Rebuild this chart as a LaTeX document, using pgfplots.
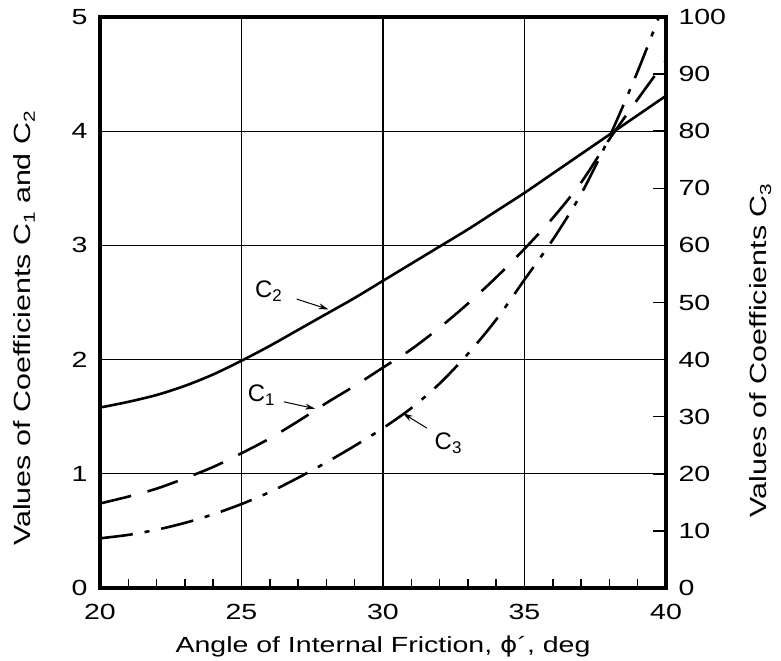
\documentclass[border=0pt]{standalone}
\usepackage{fontspec}
\setmainfont{Liberation Sans}[FakeStretch=1.3]
\newfontfamily\annfont{Liberation Sans}
\newfontfamily\phifont{DejaVu Sans}[FakeStretch=1.2]
\usepackage{pgfplots}
\usepackage{pgfplotstable}
\pgfplotsset{compat=1.18}
\usetikzlibrary{arrows.meta}
\newcommand\sub[1]{\raisebox{-0.35ex}{\fontsize{16}{16}\selectfont #1}}
\newcommand\subann[1]{\raisebox{-0.35ex}{\annfont\fontsize{17}{17}\selectfont #1}}

\pgfplotstableread{
x y
20 1.58
21 1.63
22 1.69
23 1.77
24 1.87
25 1.99
26 2.12
27 2.26
28 2.40
29 2.54
30 2.69
31 2.84
32 2.99
33 3.14
34 3.30
35 3.46
36 3.63
37 3.80
38 3.97
39 4.14
40 4.31
}\Ctwo

\pgfplotstableread{
x y
20 0.74
21 0.80
22 0.87
23 0.96
24 1.06
25 1.18
26 1.31
27 1.46
28 1.62
29 1.77
30 1.93
31 2.09
32 2.28
33 2.49
34 2.72
35 2.97
36 3.24
37 3.55
38 3.93
39 4.28
40 4.62
}\Cone

\pgfplotstableread{
x y
20 8.7
21 9.3
22 10.2
23 11.4
24 12.9
25 14.7
26 16.8
27 19.3
28 22.0
29 24.9
30 28.0
31 31.5
32 35.8
33 41.0
34 47.0
35 54.0
36 61.0
37 69.0
38 79.0
39 90.5
39.75 100
}\Cthree

\begin{document}
\begin{tikzpicture}
\begin{axis}[
  name=ax,
  scale only axis, width=566bp, height=571bp,
  xmin=20, xmax=40, ymin=0, ymax=5,
  xtick={20,25,30,35,40}, ytick={0,1,2,3,4,5},
  minor xtick={21,22,23,24,26,27,28,29,31,32,33,34,36,37,38,39},
  xtick pos=bottom, ytick pos=left,
  major tick length=0pt, minor tick length=9bp,
  tick align=inside,
  grid=major,
  major grid style={line width=1.2bp, black},
  minor tick style={line width=1.5bp, black},
  axis line style={line width=4bp, black},
  ticklabel style={font=\fontsize{22}{26}\selectfont, black},
  /pgf/number format/assume math mode=true,
  xticklabel style={yshift=-13bp},
  yticklabel style={xshift=-9bp},
  xlabel style={font=\fontsize{22}{26}\selectfont, yshift=-9bp},
  ylabel style={font=\fontsize{23.5}{28}\selectfont, yshift=30bp, xshift=-26bp},
  xlabel={Angle of Internal Friction, {\phifont ϕ}´, deg},
  ylabel={Values of Coefficients C\sub{1} and C\sub{2}},
]
\coordinate (SW) at (rel axis cs:0,0);
\coordinate (NE) at (rel axis cs:1,1);
\addplot[black, line width=2.6bp, smooth] table {\Ctwo};
\addplot[black, line width=2.6bp, smooth, dash pattern=on 32bp off 17bp] table {\Cone};
\node[font=\annfont\fontsize{24}{28}\selectfont] at (axis cs:25.95,2.60) {C\subann{2}};
\draw[line width=1bp, -{Stealth[length=10bp,width=6bp]}] (axis cs:26.95,2.53) -- (axis cs:28.07,2.44);
\node[font=\annfont\fontsize{24}{28}\selectfont] at (axis cs:25.7,1.69) {C\subann{1}};
\draw[line width=1bp, -{Stealth[length=10bp,width=6bp]}] (axis cs:26.5,1.63) -- (axis cs:27.6,1.57);
\node[font=\annfont\fontsize{24}{28}\selectfont] at (axis cs:32.3,1.27) {C\subann{3}};
\draw[line width=1bp, -{Stealth[length=10bp,width=6bp]}] (axis cs:31.55,1.40) -- (axis cs:30.7,1.53);
\end{axis}
\begin{axis}[
  scale only axis, width=566bp, height=571bp,
  xmin=20, xmax=40, ymin=0, ymax=100,
  axis x line=none, axis y line*=right,
  ytick={0,10,...,100},
  tick align=inside, major tick length=13bp,
  major tick style={line width=1.5bp, black},
  axis line style={line width=4bp, black},
  ticklabel style={font=\fontsize{22}{26}\selectfont, black},
  /pgf/number format/assume math mode=true,
  yticklabel style={xshift=9bp},
  ylabel style={font=\fontsize{23.5}{28}\selectfont, yshift=-17bp, xshift=-48bp},
  ylabel={Values of Coefficients C\sub{3}},
]
\addplot[black, line width=2.6bp, smooth, dash pattern=on 33bp off 12bp on 5bp off 12bp] table {\Cthree};
\end{axis}
\pgfresetboundingbox
\path ([shift={(-100bp,-73bp)}]SW) rectangle ([shift={(115bp,17bp)}]NE);
\end{tikzpicture}
\end{document}
